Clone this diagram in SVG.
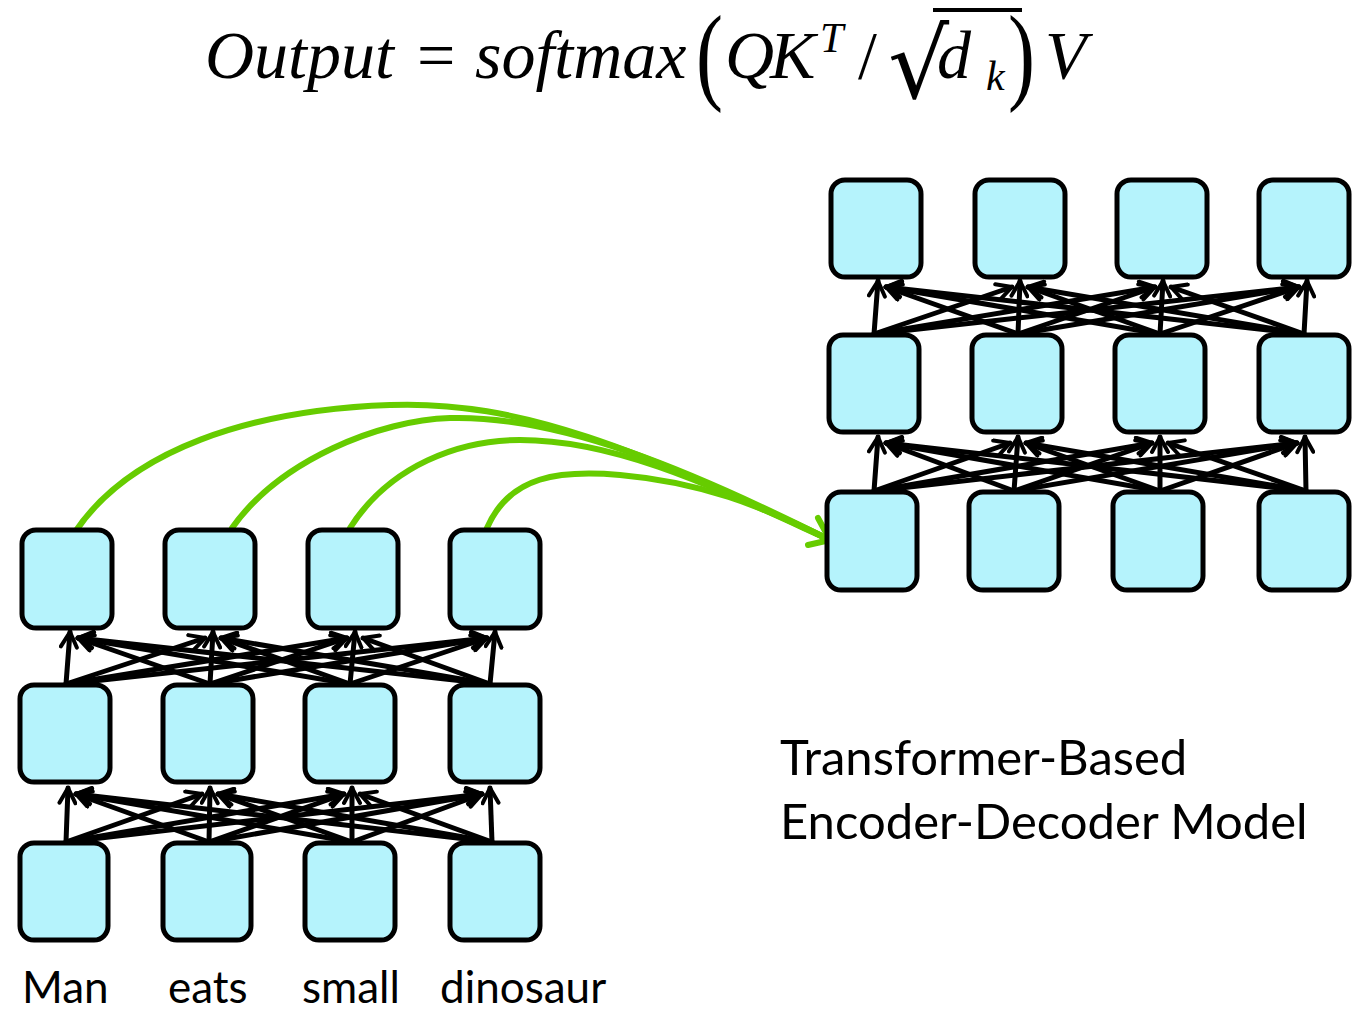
<svg xmlns="http://www.w3.org/2000/svg" width="1360" height="1010" viewBox="0 0 1360 1010">
<defs>
<style>
.box{fill:#b5f3fc;stroke:#000;stroke-width:5}
.ln{fill:none;stroke:#000;stroke-width:5;stroke-linecap:round}
.gr{fill:none;stroke:#66cc00;stroke-width:6;stroke-linecap:round;stroke-linejoin:round}
.lbl{font-family:Lato,"Liberation Sans",sans-serif;font-size:44px;fill:#000}
.title{font-family:Lato,"Liberation Sans",sans-serif;font-size:49px;fill:#000}
.eq{font-family:"Liberation Serif",serif;font-style:italic;font-size:68px;fill:#000}
.equp{font-family:"Liberation Serif",serif;font-size:68px;fill:#000}
.big{font-size:108px}
.small{font-size:42px}
</style>
<marker id="ah" viewBox="0 0 20 20" refX="18" refY="10" markerWidth="20" markerHeight="20" markerUnits="userSpaceOnUse" orient="auto">
<path d="M3,2 L18,10 L3,18" fill="none" stroke="#000" stroke-width="4" stroke-linecap="round" stroke-linejoin="round"/>
</marker>
</defs>
<rect width="1360" height="1010" fill="#fff"/>

<g id="equation">
<text class="eq" x="205" y="78">Output</text>
<text class="equp" x="417" y="78">=</text>
<text class="eq" x="475" y="78">softmax</text>
<text class="equp big" x="696" y="90" transform="translate(696,0) scale(0.75,1) translate(-696,0)">(</text>
<text class="eq" x="725" y="78">Q</text>
<text class="eq" x="770" y="78">K</text>
<text class="eq small" x="820" y="52">T</text>
<text class="equp" x="858" y="78">/</text>
<text x="888" y="98" font-family="DejaVu Sans,sans-serif" font-size="96">√</text>
<line x1="933" y1="10" x2="1022" y2="10" stroke="#000" stroke-width="4"/>
<text class="eq" x="937" y="78">d</text>
<text class="eq small" x="986" y="90">k</text>
<text class="equp big" x="1008" y="90" transform="translate(1008,0) scale(0.75,1) translate(-1008,0)">)</text>
<text class="eq" x="1045" y="78">V</text>
</g>

<g id="connectors">
<!-- encoder gap A -->
<path class="ln" marker-end="url(#ah)" d="M66,842 L68,788"/>
<path class="ln" marker-end="url(#ah)" d="M66,842 L202,794"/>
<path class="ln" marker-end="url(#ah)" d="M66,842 L344,794"/>
<path class="ln" marker-end="url(#ah)" d="M66,842 L482,794"/>
<path class="ln" marker-end="url(#ah)" d="M209,842 L76,794"/>
<path class="ln" marker-end="url(#ah)" d="M209,842 L210,788"/>
<path class="ln" marker-end="url(#ah)" d="M209,842 L344,794"/>
<path class="ln" marker-end="url(#ah)" d="M209,842 L482,794"/>
<path class="ln" marker-end="url(#ah)" d="M352,842 L76,794"/>
<path class="ln" marker-end="url(#ah)" d="M352,842 L218,794"/>
<path class="ln" marker-end="url(#ah)" d="M352,842 L352,788"/>
<path class="ln" marker-end="url(#ah)" d="M352,842 L482,794"/>
<path class="ln" marker-end="url(#ah)" d="M492,842 L76,794"/>
<path class="ln" marker-end="url(#ah)" d="M492,842 L218,794"/>
<path class="ln" marker-end="url(#ah)" d="M492,842 L360,794"/>
<path class="ln" marker-end="url(#ah)" d="M492,842 L490,788"/>
<!-- encoder gap B -->
<path class="ln" marker-end="url(#ah)" d="M66,684 L70,632"/>
<path class="ln" marker-end="url(#ah)" d="M66,684 L205,638"/>
<path class="ln" marker-end="url(#ah)" d="M66,684 L347,638"/>
<path class="ln" marker-end="url(#ah)" d="M66,684 L487,638"/>
<path class="ln" marker-end="url(#ah)" d="M210,684 L78,638"/>
<path class="ln" marker-end="url(#ah)" d="M210,684 L213,632"/>
<path class="ln" marker-end="url(#ah)" d="M210,684 L347,638"/>
<path class="ln" marker-end="url(#ah)" d="M210,684 L487,638"/>
<path class="ln" marker-end="url(#ah)" d="M350,684 L78,638"/>
<path class="ln" marker-end="url(#ah)" d="M350,684 L221,638"/>
<path class="ln" marker-end="url(#ah)" d="M350,684 L355,632"/>
<path class="ln" marker-end="url(#ah)" d="M350,684 L487,638"/>
<path class="ln" marker-end="url(#ah)" d="M490,684 L78,638"/>
<path class="ln" marker-end="url(#ah)" d="M490,684 L221,638"/>
<path class="ln" marker-end="url(#ah)" d="M490,684 L363,638"/>
<path class="ln" marker-end="url(#ah)" d="M490,684 L495,632"/>
<!-- decoder gap C -->
<path class="ln" marker-end="url(#ah)" d="M874,491 L878,437"/>
<path class="ln" marker-end="url(#ah)" d="M874,491 L1010,443"/>
<path class="ln" marker-end="url(#ah)" d="M874,491 L1152,443"/>
<path class="ln" marker-end="url(#ah)" d="M874,491 L1297,443"/>
<path class="ln" marker-end="url(#ah)" d="M1014,491 L886,443"/>
<path class="ln" marker-end="url(#ah)" d="M1014,491 L1018,437"/>
<path class="ln" marker-end="url(#ah)" d="M1014,491 L1152,443"/>
<path class="ln" marker-end="url(#ah)" d="M1014,491 L1297,443"/>
<path class="ln" marker-end="url(#ah)" d="M1160,491 L886,443"/>
<path class="ln" marker-end="url(#ah)" d="M1160,491 L1026,443"/>
<path class="ln" marker-end="url(#ah)" d="M1160,491 L1160,437"/>
<path class="ln" marker-end="url(#ah)" d="M1160,491 L1297,443"/>
<path class="ln" marker-end="url(#ah)" d="M1306,491 L886,443"/>
<path class="ln" marker-end="url(#ah)" d="M1306,491 L1026,443"/>
<path class="ln" marker-end="url(#ah)" d="M1306,491 L1168,443"/>
<path class="ln" marker-end="url(#ah)" d="M1306,491 L1305,437"/>
<!-- decoder gap D -->
<path class="ln" marker-end="url(#ah)" d="M874,334 L878,281"/>
<path class="ln" marker-end="url(#ah)" d="M874,334 L1012,287"/>
<path class="ln" marker-end="url(#ah)" d="M874,334 L1155,287"/>
<path class="ln" marker-end="url(#ah)" d="M874,334 L1299,287"/>
<path class="ln" marker-end="url(#ah)" d="M1018,334 L886,287"/>
<path class="ln" marker-end="url(#ah)" d="M1018,334 L1020,281"/>
<path class="ln" marker-end="url(#ah)" d="M1018,334 L1155,287"/>
<path class="ln" marker-end="url(#ah)" d="M1018,334 L1299,287"/>
<path class="ln" marker-end="url(#ah)" d="M1160,334 L886,287"/>
<path class="ln" marker-end="url(#ah)" d="M1160,334 L1028,287"/>
<path class="ln" marker-end="url(#ah)" d="M1160,334 L1163,281"/>
<path class="ln" marker-end="url(#ah)" d="M1160,334 L1299,287"/>
<path class="ln" marker-end="url(#ah)" d="M1304,334 L886,287"/>
<path class="ln" marker-end="url(#ah)" d="M1304,334 L1028,287"/>
<path class="ln" marker-end="url(#ah)" d="M1304,334 L1171,287"/>
<path class="ln" marker-end="url(#ah)" d="M1304,334 L1307,281"/>
<!-- green cross connections -->
<path class="gr" d="M75,532 C130,450 250,410 390,405 C520,400 640,450 830,540"/>
<path class="gr" d="M232,528 C280,460 380,420 450,418 C560,415 690,470 830,540"/>
<path class="gr" d="M350,528 C390,465 460,440 520,440 C620,440 720,490 830,540"/>
<path class="gr" d="M487,528 C510,475 560,470 620,475 C700,482 760,505 830,540"/>
<path class="gr" d="M818,518 L830,540 L808,545"/>
</g>

<g id="enc-r1-c1"><rect class="box" x="22" y="530" width="90" height="98" rx="14"/></g>
<g id="enc-r1-c2"><rect class="box" x="165" y="530" width="90" height="98" rx="14"/></g>
<g id="enc-r1-c3"><rect class="box" x="308" y="530" width="90" height="98" rx="14"/></g>
<g id="enc-r1-c4"><rect class="box" x="450" y="530" width="90" height="98" rx="14"/></g>
<g id="enc-r2-c1"><rect class="box" x="20" y="685" width="90" height="97" rx="14"/></g>
<g id="enc-r2-c2"><rect class="box" x="163" y="685" width="90" height="97" rx="14"/></g>
<g id="enc-r2-c3"><rect class="box" x="305" y="685" width="90" height="97" rx="14"/></g>
<g id="enc-r2-c4"><rect class="box" x="450" y="685" width="90" height="97" rx="14"/></g>
<g id="enc-r3-c1"><rect class="box" x="20" y="843" width="88" height="97" rx="14"/></g>
<g id="enc-r3-c2"><rect class="box" x="163" y="843" width="88" height="97" rx="14"/></g>
<g id="enc-r3-c3"><rect class="box" x="305" y="843" width="90" height="97" rx="14"/></g>
<g id="enc-r3-c4"><rect class="box" x="450" y="843" width="90" height="97" rx="14"/></g>

<g id="dec-r1-c1"><rect class="box" x="831" y="180" width="90" height="97" rx="14"/></g>
<g id="dec-r1-c2"><rect class="box" x="975" y="180" width="90" height="97" rx="14"/></g>
<g id="dec-r1-c3"><rect class="box" x="1117" y="180" width="90" height="97" rx="14"/></g>
<g id="dec-r1-c4"><rect class="box" x="1259" y="180" width="90" height="97" rx="14"/></g>
<g id="dec-r2-c1"><rect class="box" x="829" y="335" width="90" height="97" rx="14"/></g>
<g id="dec-r2-c2"><rect class="box" x="972" y="335" width="90" height="97" rx="14"/></g>
<g id="dec-r2-c3"><rect class="box" x="1115" y="335" width="90" height="97" rx="14"/></g>
<g id="dec-r2-c4"><rect class="box" x="1259" y="335" width="90" height="97" rx="14"/></g>
<g id="dec-r3-c1"><rect class="box" x="827" y="492" width="90" height="98" rx="14"/></g>
<g id="dec-r3-c2"><rect class="box" x="969" y="492" width="90" height="98" rx="14"/></g>
<g id="dec-r3-c3"><rect class="box" x="1113" y="492" width="90" height="98" rx="14"/></g>
<g id="dec-r3-c4"><rect class="box" x="1259" y="492" width="90" height="98" rx="14"/></g>

<g id="labels">
<text class="lbl" x="22" y="1003">Man</text>
<text class="lbl" x="168" y="1003">eats</text>
<text class="lbl" x="302" y="1003">small</text>
<text class="lbl" x="440" y="1003">dinosaur</text>
<text class="title" x="780" y="775">Transformer-Based</text>
<text class="title" x="780" y="839">Encoder-Decoder Model</text>
</g>
</svg>
